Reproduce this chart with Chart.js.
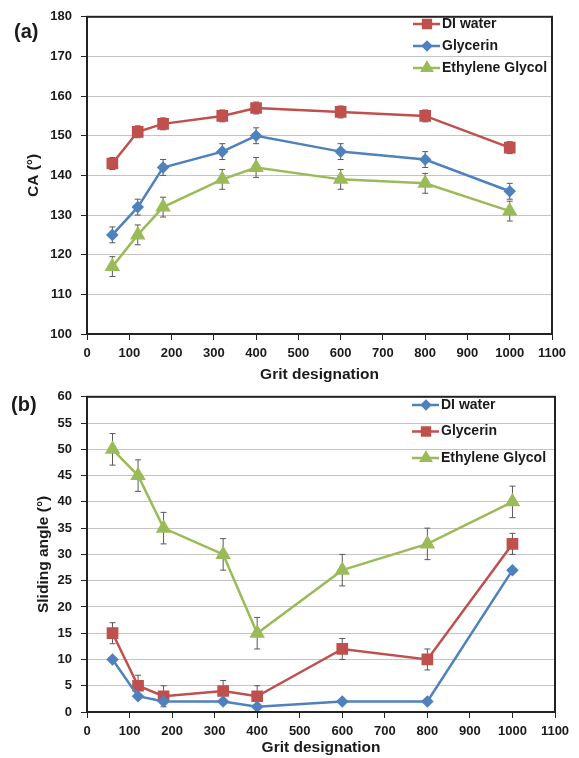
<!DOCTYPE html>
<html>
<head>
<meta charset="utf-8">
<script src="https://cdn.jsdelivr.net/npm/chart.js@4"></script>
<style>
  body { margin: 0; background: #fff; width: 579px; height: 758px; position: relative; overflow: hidden; font-family: "Liberation Sans", Arial, sans-serif; }
  .wrap { position: absolute; left: 0; width: 579px; }
  .tag { position: absolute; font-weight: bold; font-size: 20px; color: #1a1a1a; }
</style>
</head>
<body>
<div class="wrap" style="top:0;height:386px"><canvas id="chartA"></canvas></div>
<div class="wrap" style="top:380px;height:378px"><canvas id="chartB"></canvas></div>
<div class="tag" style="left:14px;top:20px">(a)</div>
<div class="tag" style="left:11px;top:393px">(b)</div>
<script>
// --- Données ---
const grit = [60, 120, 180, 320, 400, 600, 800, 1000];

// (a) angle de contact
const caWater = [143, 151, 153, 155, 157, 156, 155, 147];
const caWaterErr = [1.5, 1.5, 1.5, 1.5, 1.5, 1.5, 1.5, 1.5];
const caGlycerin = [125, 132, 142, 146, 150, 146, 144, 136];
const caGlycerinErr = [2, 2, 2, 2, 2, 2, 2, 2];
const caGlycol = [117, 125, 132, 139, 142, 139, 138, 131];
const caGlycolErr = [2.5, 2.5, 2.5, 2.5, 2.5, 2.5, 2.5, 2.5];

// (b) angle de glissement
const saWater = [10, 3, 2, 2, 1, 2, 2, 27];
const saWaterErr = [0, 0, 0, 0, 0, 0, 0, 0];
const saGlycerin = [15, 5, 3, 4, 3, 12, 10, 32];
const saGlycerinErr = [2, 2, 2, 2, 2, 2, 2, 2];
const saGlycol = [50, 45, 35, 30, 15, 27, 32, 40];
const saGlycolErr = [3, 3, 3, 3, 3, 3, 3, 3];

const RED = "#c0504d", BLUE = "#4f81bd", GREEN = "#9bbb59";
const FONT = '"Liberation Sans", Arial, sans-serif';
const TEXT = "#1a1a1a";

function makeSet(label, values, errors, color, style, radius, legendRadius) {
  return {
    label,
    data: values.map((v, i) => ({ x: grit[i], y: v })),
    errors,
    borderColor: color,
    backgroundColor: color,
    pointBackgroundColor: color,
    pointBorderColor: color,
    pointStyle: style,
    pointRadius: radius,
    legendRadius,
    borderWidth: 2.5,
    tension: 0,
  };
}

// --- Barres d'erreur ---
const errorBars = {
  id: "errorBars",
  beforeDatasetsDraw(chart) {
    const { ctx, scales: { x, y } } = chart;
    ctx.save();
    ctx.strokeStyle = "#595959";
    ctx.lineWidth = 1;
    chart.data.datasets.forEach((ds) => {
      (ds.errors || []).forEach((e, i) => {
        if (!e) return;
        const px = x.getPixelForValue(ds.data[i].x);
        const top = y.getPixelForValue(ds.data[i].y + e);
        const bot = y.getPixelForValue(ds.data[i].y - e);
        ctx.beginPath();
        ctx.moveTo(px, top); ctx.lineTo(px, bot);
        ctx.moveTo(px - 3, top); ctx.lineTo(px + 3, top);
        ctx.moveTo(px - 3, bot); ctx.lineTo(px + 3, bot);
        ctx.stroke();
      });
    });
    ctx.restore();
  },
};

// --- Cadre autour de la zone de tracé ---
const frame = {
  id: "frame",
  afterDatasetsDraw(chart) {
    const { ctx, chartArea: a } = chart;
    ctx.save();
    ctx.strokeStyle = "#222";
    ctx.lineWidth = 2;
    ctx.strokeRect(a.left, a.top, a.right - a.left, a.bottom - a.top);
    ctx.restore();
  },
};

// --- Légende style Excel (trait + marqueur) ---
const lineLegend = {
  id: "lineLegend",
  afterDraw(chart, args, opts) {
    const { ctx } = chart;
    ctx.save();
    ctx.font = "bold 14px " + FONT;
    ctx.textBaseline = "middle";
    chart.data.datasets.forEach((ds, i) => {
      const y = opts.top + i * opts.gap;
      ctx.strokeStyle = ds.borderColor;
      ctx.lineWidth = 2.5;
      ctx.beginPath();
      ctx.moveTo(opts.left, y);
      ctx.lineTo(opts.left + 27, y);
      ctx.stroke();
      ctx.fillStyle = ds.pointBackgroundColor;
      Chart.helpers.drawPoint(ctx, { pointStyle: ds.pointStyle, radius: ds.legendRadius, rotation: 0, borderWidth: 1 }, opts.left + 14, y);
      ctx.fillStyle = TEXT;
      ctx.fillText(ds.label, opts.left + 29, y);
    });
    ctx.restore();
  },
};

function buildOptions(cfg) {
  return {
    responsive: true,
    maintainAspectRatio: false,
    animation: false,
    layout: { padding: { top: 14, right: cfg.right, left: 0, bottom: 0 } },
    plugins: {
      legend: { display: false },
      tooltip: { enabled: false },
      lineLegend: cfg.legend,
    },
    scales: {
      x: {
        type: "linear",
        min: 0,
        max: 1100,
        ticks: { stepSize: 100, autoSkip: false, maxRotation: 0, color: TEXT, padding: 6, callback: (v) => String(v), font: { family: FONT, size: 13, weight: "bold" } },
        grid: { drawOnChartArea: false, tickColor: "#222", tickLength: 6 },
        border: { color: "#222", width: 2 },
        title: { display: true, text: "Grit designation", color: TEXT, padding: { bottom: cfg.titleBottom, top: 0 }, font: { family: FONT, size: 15.5, weight: "bold" } },
        afterFit: (s) => { s.height = cfg.xHeight; },
      },
      y: {
        min: cfg.yMin,
        max: cfg.yMax,
        ticks: { stepSize: cfg.yStep, color: TEXT, padding: 9, callback: (v) => String(v), font: { family: FONT, size: 13, weight: "bold" } },
        grid: { color: "#c4c4c4", tickColor: "#222", tickLength: 6 },
        border: { color: "#222", width: 2 },
        title: { display: true, text: cfg.yTitle, color: TEXT, padding: { top: cfg.yTitlePad, bottom: 0 }, font: { family: FONT, size: 15.5, weight: "bold" } },
        afterFit: (s) => { s.width = 87; },
      },
    },
  };
}

new Chart(document.getElementById("chartA"), {
  type: "line",
  data: {
    datasets: [
      makeSet("DI water", caWater, caWaterErr, RED, "rect", 6.5, 5.5),
      makeSet("Glycerin", caGlycerin, caGlycerinErr, BLUE, "rectRot", 4.5, 4),
      makeSet("Ethylene Glycol", caGlycol, caGlycolErr, GREEN, "triangle", 6.5, 5.5),
    ],
  },
  options: buildOptions({
    right: 27, xHeight: 52, titleBottom: 2, yMin: 100, yMax: 180, yStep: 10,
    yTitle: "CA (°)", yTitlePad: 24, legend: { left: 413, top: 24, gap: 22 },
  }),
  plugins: [errorBars, frame, lineLegend],
});

new Chart(document.getElementById("chartB"), {
  type: "line",
  data: {
    datasets: [
      makeSet("DI water", saWater, saWaterErr, BLUE, "rectRot", 4.5, 4),
      makeSet("Glycerin", saGlycerin, saGlycerinErr, RED, "rect", 6.5, 5.5),
      makeSet("Ethylene Glycol", saGlycol, saGlycolErr, GREEN, "triangle", 6.5, 5.5),
    ],
  },
  options: buildOptions({
    right: 24, xHeight: 46, titleBottom: 1, yMin: 0, yMax: 60, yStep: 5,
    yTitle: "Sliding angle (°)", yTitlePad: 34, legend: { left: 412, top: 25, gap: 26.5 },
  }),
  plugins: [errorBars, frame, lineLegend],
});
</script>
</body>
</html>
